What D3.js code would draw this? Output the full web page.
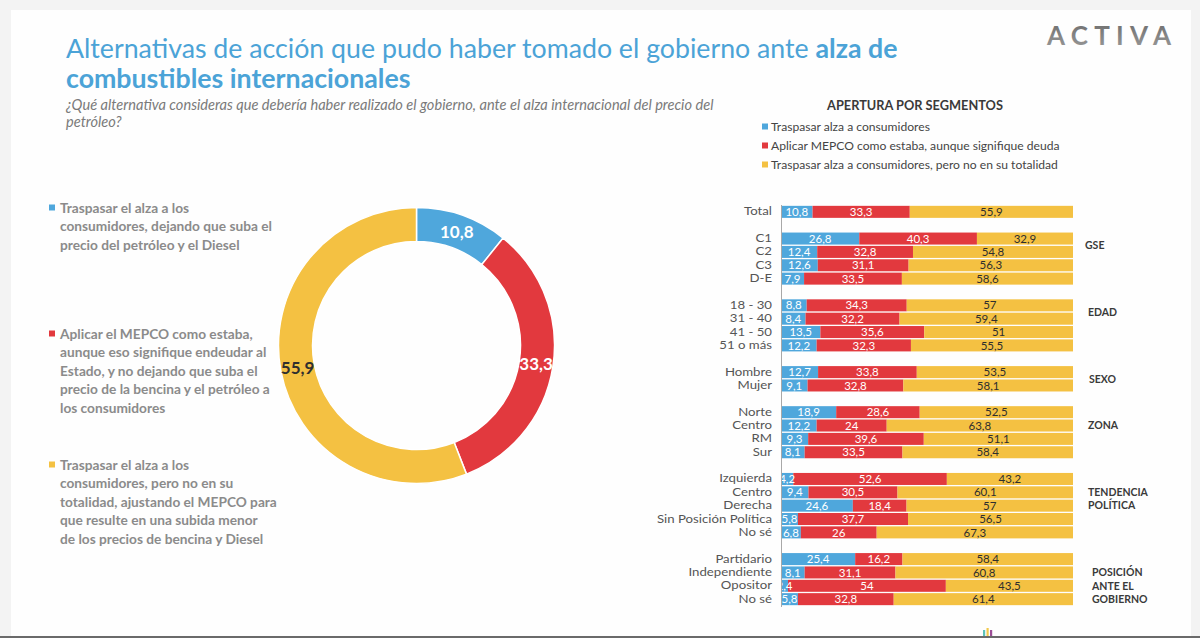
<!DOCTYPE html>
<html>
<head>
<meta charset="utf-8">
<script src="https://cdnjs.cloudflare.com/ajax/libs/d3/7.8.5/d3.min.js"></script>
<style>
	html, body { margin: 0; padding: 0; background: #f3f3f3; }
	svg { display: block; }
</style>
</head>
<body>
<svg id="chart" width="1200" height="638"></svg>
<script>

var donutValues = [10.8, 33.3, 55.9];

var donutLegend = [
	["Traspasar el alza a los", "consumidores, dejando que suba el", "precio del petróleo y el Diesel"],
	["Aplicar el MEPCO como estaba,", "aunque eso signifique endeudar al", "Estado, y no dejando que suba el", "precio de la bencina y el petróleo a", "los consumidores"],
	["Traspasar el alza a los", "consumidores, pero no en su", "totalidad, ajustando el MEPCO para", "que resulte en una subida menor", "de los precios de bencina y Diesel"]
];

var seriesNames = [
	"Traspasar alza a consumidores",
	"Aplicar MEPCO como estaba, aunque signifique deuda",
	"Traspasar alza a consumidores, pero no en su totalidad"
];

var groupTitles = [[], ["GSE"], ["EDAD"], ["SEXO"], ["ZONA"], ["TENDENCIA", "POLÍTICA"], ["POSICIÓN", "ANTE EL", "GOBIERNO"]];

var rowLabels = ["Total",
	"C1", "C2", "C3", "D-E",
	"18 - 30", "31 - 40", "41 - 50", "51 o más",
	"Hombre", "Mujer",
	"Norte", "Centro", "RM", "Sur",
	"Izquierda", "Centro", "Derecha", "Sin Posición Política", "No sé",
	"Partidario", "Independiente", "Opositor", "No sé"];

var rowGroup = [0, 1, 1, 1, 1, 2, 2, 2, 2, 3, 3, 4, 4, 4, 4, 5, 5, 5, 5, 5, 6, 6, 6, 6];

var traspasar = [10.8, 26.8, 12.4, 12.6, 7.9, 8.8, 8.4, 13.5, 12.2, 12.7, 9.1, 18.9, 12.2, 9.3, 8.1, 4.2, 9.4, 24.6, 5.8, 6.8, 25.4, 8.1, 2.4, 5.8];
var mepco = [33.3, 40.3, 32.8, 31.1, 33.5, 34.3, 32.2, 35.6, 32.3, 33.8, 32.8, 28.6, 24, 39.6, 33.5, 52.6, 30.5, 18.4, 37.7, 26, 16.2, 31.1, 54, 32.8];
var parcial = [55.9, 32.9, 54.8, 56.3, 58.6, 57, 59.4, 51, 55.5, 53.5, 58.1, 52.5, 63.8, 51.1, 58.4, 43.2, 60.1, 57, 56.5, 67.3, 58.4, 60.8, 43.5, 61.4];


var Slide = {

	FONT_FAMILY: "Lato, 'Open Sans', sans-serif",
	COLORS: ["#4fa7dc", "#e2393e", "#f4c142"],
	TITLE_COLOR: "#4ba3d7",
	LEGEND_TEXT_COLOR: "#8b8b8b",

	DONUT_CENTER: {x: 416.5, y: 345.5},
	DONUT_OUTER: 138,
	DONUT_INNER: 104,
	DONUT_LABEL_RADIUS: 121,

	LEGEND_TOPS: [213, 339, 470],
	LEGEND_LINE_HEIGHT: 18.4,

	BAR_LEFT: 781,
	BAR_RIGHT: 1073,
	BAR_TOP: 204.5,
	BAR_BOTTOM: 606.5,
	GROUP_LABEL_X: [0, 1085, 1088, 1089, 1088, 1088, 1092],
	GROUP_LABEL_ROW: [0, 0.5, 0.5, 0.5, 1, 1, 1],

	render: function() {
		var svg = d3.select('#chart');
		this.drawFrame(svg);
		this.drawTitle(svg);
		this.drawDonut(svg);
		this.drawDonutLegend(svg);
		this.drawSegments(svg);
	},

	// scale font-size so the text spans the given width
	fitWidth: function(textSel, width) {
		var size = parseFloat(textSel.attr('font-size'));
		var w = textSel.node().getComputedTextLength();
		var newSize = size * width / w;
		textSel.attr('font-size', newSize);
		return newSize;
	},

	drawFrame: function(svg) {
		svg.append('rect')
			.attr('width', 1200).attr('height', 638)
			.attr('fill', '#f3f3f3');
		svg.append('rect')
			.attr('x', 11).attr('y', 10)
			.attr('width', 1180).attr('height', 626)
			.attr('fill', '#fefefe');
		svg.append('rect')
			.attr('x', 0).attr('y', 636)
			.attr('width', 1200).attr('height', 2)
			.attr('fill', '#6a6a6a');

		// tiny footer mark
		var marks = ['#5cc2b8', '#f2c94c', '#9b4d96'];
		for(var i = 0; i < marks.length; i++) {
			svg.append('rect')
				.attr('x', 983 + i * 3.5).attr('y', 630 - (i === 1 ? 2 : 0))
				.attr('width', 2.2).attr('height', 6 + (i === 1 ? 2 : 0))
				.attr('fill', marks[i]);
		}

		var grad = svg.append('defs').append('linearGradient')
			.attr('id', 'logoGrad')
			.attr('x1', 0).attr('y1', 0).attr('x2', 0).attr('y2', 1);
		grad.append('stop').attr('offset', '0%').attr('stop-color', '#6a6a6a');
		grad.append('stop').attr('offset', '100%').attr('stop-color', '#9c9c9c');

		svg.append('text')
			.attr('x', 1047).attr('y', 45)
			.attr('font-family', this.FONT_FAMILY)
			.attr('font-size', 26)
			.attr('font-weight', 700)
			.attr('fill', 'url(#logoGrad)')
			.attr('textLength', 124)
			.attr('lengthAdjust', 'spacing')
			.text('ACTIVA');
	},

	drawTitle: function(svg) {
		var line1 = svg.append('text')
			.attr('x', 66).attr('y', 58)
			.attr('font-family', this.FONT_FAMILY)
			.attr('font-size', 27)
			.attr('fill', this.TITLE_COLOR);
		line1.append('tspan').attr('font-weight', 400)
			.text('Alternativas de acción que pudo haber tomado el gobierno ante ');
		line1.append('tspan').attr('font-weight', 700)
			.text('alza de');
		var size = this.fitWidth(line1, 832);

		svg.append('text')
			.attr('x', 66).attr('y', 88)
			.attr('font-family', this.FONT_FAMILY)
			.attr('font-size', size)
			.attr('font-weight', 700)
			.attr('fill', this.TITLE_COLOR)
			.text('combustibles internacionales');

		var sub1 = svg.append('text')
			.attr('x', 66).attr('y', 110)
			.attr('font-family', this.FONT_FAMILY)
			.attr('font-size', 14)
			.attr('font-style', 'italic')
			.attr('fill', '#7a7a7a')
			.text('¿Qué alternativa consideras que debería haber realizado el gobierno, ante el alza internacional del precio del');
		var subSize = this.fitWidth(sub1, 648);

		svg.append('text')
			.attr('x', 66).attr('y', 127)
			.attr('font-family', this.FONT_FAMILY)
			.attr('font-size', subSize)
			.attr('font-style', 'italic')
			.attr('fill', '#7a7a7a')
			.text('petróleo?');
	},

	drawDonut: function(svg) {
		var me = this;
		var pie = d3.pie().sort(null).value(function(d) { return d; });
		var arcs = pie(donutValues);

		var arc = d3.arc()
			.innerRadius(this.DONUT_INNER)
			.outerRadius(this.DONUT_OUTER);
		var labelArc = d3.arc()
			.innerRadius(this.DONUT_LABEL_RADIUS)
			.outerRadius(this.DONUT_LABEL_RADIUS);

		var g = svg.append('g')
			.attr('transform', 'translate(' + this.DONUT_CENTER.x + ',' + this.DONUT_CENTER.y + ')');

		g.selectAll('path.slice')
			.data(arcs)
			.enter().append('path')
			.attr('class', 'slice')
			.attr('d', arc)
			.attr('fill', function(d, i) { return me.COLORS[i]; })
			.attr('stroke', '#ffffff')
			.attr('stroke-width', 1.5);

		g.selectAll('text.slice-label')
			.data(arcs)
			.enter().append('text')
			.attr('class', 'slice-label')
			.attr('transform', function(d) { return 'translate(' + labelArc.centroid(d) + ')'; })
			.attr('dy', '0.36em')
			.attr('text-anchor', 'middle')
			.attr('font-family', this.FONT_FAMILY)
			.attr('font-size', 17)
			.attr('font-weight', 700)
			.attr('fill', function(d, i) { return i === 2 ? '#2f2f2f' : '#ffffff'; })
			.text(function(d) { return String(d.value).replace('.', ','); });
	},

	drawDonutLegend: function(svg) {
		var size = 14;
		var probe = svg.append('text')
			.attr('font-family', this.FONT_FAMILY)
			.attr('font-size', size)
			.attr('font-weight', 700)
			.text(donutLegend[2][2]);
		size = this.fitWidth(probe, 217);
		probe.remove();

		for(var i = 0; i < donutLegend.length; i++) {
			var top = this.LEGEND_TOPS[i];
			svg.append('rect')
				.attr('x', 49).attr('y', top - 8.5)
				.attr('width', 6).attr('height', 6)
				.attr('fill', this.COLORS[i]);

			svg.append('g').selectAll('text')
				.data(donutLegend[i])
				.enter().append('text')
				.attr('x', 60)
				.attr('y', function(d, j) { return top + j * Slide.LEGEND_LINE_HEIGHT; })
				.attr('font-family', this.FONT_FAMILY)
				.attr('font-size', size)
				.attr('font-weight', 700)
				.attr('fill', this.LEGEND_TEXT_COLOR)
				.text(function(d) { return d; });
		}
	},

	drawSegments: function(svg) {
		var me = this;

		var head = svg.append('text')
			.attr('x', 915).attr('y', 110)
			.attr('text-anchor', 'middle')
			.attr('font-family', this.FONT_FAMILY)
			.attr('font-size', 13)
			.attr('font-weight', 700)
			.attr('fill', '#3a3a3a')
			.text('APERTURA POR SEGMENTOS');
		this.fitWidth(head, 176);

		var probe = svg.append('text')
			.attr('font-family', this.FONT_FAMILY)
			.attr('font-size', 12)
			.text(seriesNames[2]);
		var legendSize = this.fitWidth(probe, 287);
		probe.remove();

		var legend = svg.append('g').selectAll('g.legend-item')
			.data(seriesNames)
			.enter().append('g')
			.attr('class', 'legend-item')
			.attr('transform', function(d, i) { return 'translate(0,' + (127 + i * 19) + ')'; });
		legend.append('rect')
			.attr('x', 762).attr('y', -3.5)
			.attr('width', 6).attr('height', 6)
			.attr('fill', function(d, i) { return me.COLORS[i]; });
		legend.append('text')
			.attr('x', 771).attr('y', 4.3)
			.attr('font-family', this.FONT_FAMILY)
			.attr('font-size', legendSize)
			.attr('fill', '#444444')
			.text(function(d) { return d; });

		// row slots, with an empty slot between groups
		var slots = [];
		var rows = [];
		for(var i = 0; i < rowLabels.length; i++) {
			if(i > 0 && rowGroup[i] !== rowGroup[i - 1]) {
				slots.push('gap' + i);
			}
			slots.push('r' + i);
			rows.push({key: 'r' + i, label: rowLabels[i], group: rowGroup[i],
				a: traspasar[i], b: mepco[i], c: parcial[i]});
		}

		var y = d3.scaleBand()
			.domain(slots)
			.range([this.BAR_TOP, this.BAR_BOTTOM])
			.padding(0.1);
		var x = d3.scaleLinear()
			.domain([0, 1])
			.range([this.BAR_LEFT, this.BAR_RIGHT]);

		var stack = d3.stack()
			.keys(['a', 'b', 'c'])
			.offset(d3.stackOffsetExpand);
		var series = stack(rows);

		var layers = svg.append('g').selectAll('g.layer')
			.data(series)
			.enter().append('g')
			.attr('class', 'layer')
			.attr('fill', function(d, i) { return me.COLORS[i]; });

		layers.selectAll('rect')
			.data(function(d) { return d; })
			.enter().append('rect')
			.attr('x', function(d) { return x(d[0]); })
			.attr('y', function(d) { return y(d.data.key); })
			.attr('width', function(d) { return x(d[1]) - x(d[0]); })
			.attr('height', y.bandwidth());

		var valueLayers = svg.append('g').selectAll('g.values')
			.data(series)
			.enter().append('g')
			.attr('class', 'values')
			.attr('fill', function(d, i) { return i === 2 ? '#2e2e2e' : '#ffffff'; });

		valueLayers.selectAll('text')
			.data(function(d) {
				var key = d.key;
				return d.map(function(p) { return {p: p, v: p.data[key]}; });
			})
			.enter().append('text')
			.attr('x', function(d) { return (x(d.p[0]) + x(d.p[1])) / 2; })
			.attr('y', function(d) { return y(d.p.data.key) + y.bandwidth() / 2; })
			.attr('dy', '0.36em')
			.attr('text-anchor', 'middle')
			.attr('font-family', this.FONT_FAMILY)
			.attr('font-size', 11.5)
			.text(function(d) { return String(d.v).replace('.', ','); });

		var labelMap = {};
		rows.forEach(function(r) { labelMap[r.key] = r.label; });

		var axis = d3.axisLeft(y)
			.tickSize(0)
			.tickSizeOuter(0)
			.tickPadding(9)
			.tickFormat(function(k) { return labelMap[k] || ''; });

		var axisG = svg.append('g')
			.attr('transform', 'translate(' + this.BAR_LEFT + ',0)')
			.call(axis);
		axisG.select('.domain')
			.attr('stroke', '#a8a8a8')
			.attr('stroke-width', 1);

		// keep the labels one row tall, but widen them like the reference
		var tickLabels = axisG.selectAll('text')
			.attr('font-family', this.FONT_FAMILY)
			.attr('font-size', 11)
			.attr('fill', '#555555');
		var widest = tickLabels.filter(function() { return this.textContent === 'Sin Posición Política'; });
		var stretch = 115 / widest.node().getComputedTextLength();
		tickLabels.each(function() {
			if(this.textContent === '') { return; }
			var w = this.getComputedTextLength();
			d3.select(this)
				.attr('textLength', w * stretch)
				.attr('lengthAdjust', 'spacingAndGlyphs');
		});

		// group titles on the right
		for(var gi = 1; gi < groupTitles.length; gi++) {
			var first = rows.filter(function(r) { return r.group === gi; })[0];
			var gy = y(first.key) + y.bandwidth() / 2 + this.GROUP_LABEL_ROW[gi] * y.step();
			for(var li = 0; li < groupTitles[gi].length; li++) {
				svg.append('text')
					.attr('x', this.GROUP_LABEL_X[gi])
					.attr('y', gy + li * y.step())
					.attr('dy', '0.36em')
					.attr('font-family', this.FONT_FAMILY)
					.attr('font-size', 10.5)
					.attr('font-weight', 700)
					.attr('fill', '#3a3a3a')
					.text(groupTitles[gi][li]);
			}
		}
	}

};

Slide.render();

</script>
</body>
</html>
